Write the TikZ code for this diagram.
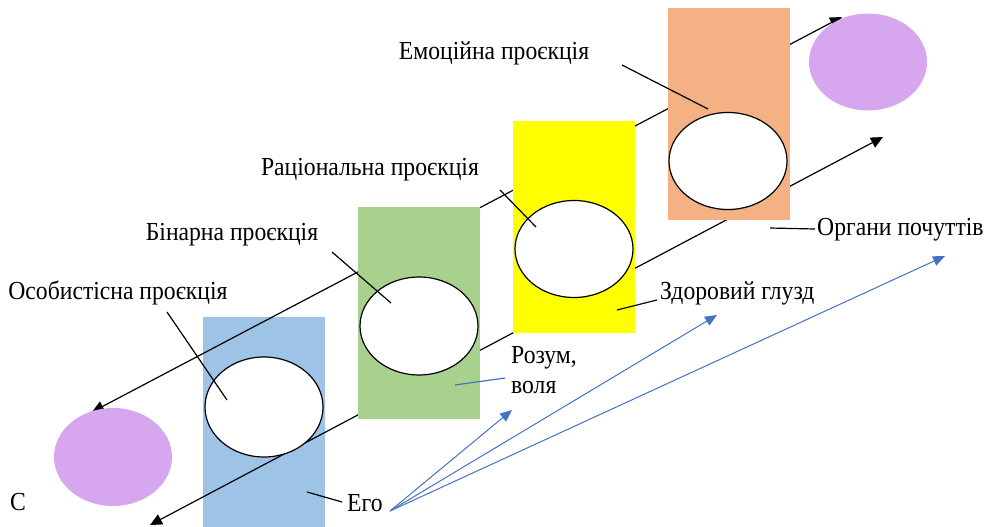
\documentclass[tikz,border=0pt]{standalone}
\usepackage{fontspec}
\setmainfont[FakeStretch=0.91]{Liberation Serif}
\usetikzlibrary{shapes.geometric,arrows.meta}
\definecolor{cblue}{RGB}{157,195,230}
\definecolor{cgreen}{RGB}{169,209,142}
\definecolor{cyellow}{RGB}{255,255,0}
\definecolor{corange}{RGB}{244,177,131}
\definecolor{cpurple}{RGB}{214,166,238}
\definecolor{carrow}{RGB}{68,114,196}
\tikzset{
  panel/.style={rectangle, inner sep=0pt, anchor=north west, minimum width=122pt},
  oval/.style={ellipse, draw=black, line width=1.2pt, fill=white, inner sep=0pt, minimum width=118pt, minimum height=97pt},
  goal/.style={ellipse, fill=cpurple, inner sep=0pt, minimum width=118pt, minimum height=97pt},
  bigarrow/.style={line width=1.2pt, {Triangle[length=12pt,width=11pt]}-{Triangle[length=12pt,width=11pt]}},
  pointer/.style={line width=1.2pt},
  bluepointer/.style={line width=1.2pt, draw=carrow},
  bluearrow/.style={line width=1pt, draw=carrow, -{Triangle[length=12pt,width=10pt]}, color=carrow},
  lbl/.style={inner sep=0pt, font=\fontsize{26}{30}\selectfont}
}
\begin{document}
\begin{tikzpicture}[x=1pt,y=-1pt]
\useasboundingbox (0,0) rectangle (985,527);
% blue panel (behind the lines)
\node[panel, fill=cblue, minimum height=210pt] (pblue) at (203,317) {};
% long arrows
\coordinate (a1) at (92,412);
\coordinate (a2) at (842,17);
\coordinate (b1) at (150,525);
\coordinate (b2) at (883,137);
\draw[bigarrow] (a1) -- (a2);
\draw[bigarrow] (b1) -- (b2);
% other panels
\node[panel, fill=cgreen, minimum height=212pt] (pgreen) at (358,207) {};
\node[panel, fill=cyellow, minimum height=212pt] (pyellow) at (513,121) {};
\node[panel, fill=corange, minimum height=212pt] (porange) at (668,8) {};
% ellipses
\node[oval, minimum height=100pt] (e1) at (264,407) {};
\node[oval, minimum height=98pt] (e2) at (419,326) {};
\node[oval] (e3) at (574,249) {};
\node[oval] (e4) at (728,161) {};
\node[goal, minimum height=98pt] (g1) at (113,457) {};
\node[goal] (g2) at (868,62) {};
% labels
\node[lbl] (l4) at (494,53) {Емоційна проєкція};
\node[lbl] (l3) at (370,170) {Раціональна проєкція};
\node[lbl] (l2) at (232,235) {Бінарна проєкція};
\node[lbl] (l1) at (118,293) {Особистісна проєкція};
\node[lbl, anchor=west] (lorg) at (817,230) {Органи почуттів};
\node[lbl, anchor=west] (lzd) at (660,293) {Здоровий глузд};
\node[lbl, anchor=west, align=left, font=\fontsize{26}{30}\selectfont] (lroz) at (511,370) {Розум,\\воля};
\node[lbl, anchor=west] (lego) at (347,503) {Его};
\node[lbl] (lc) at (18,502) {С};
% pointers
\coordinate (p4a) at (622,65); \coordinate (p4b) at (708,109);
\coordinate (p3a) at (500,190); \coordinate (p3b) at (536,227);
\coordinate (p2a) at (332,252); \coordinate (p2b) at (391,303);
\coordinate (p1a) at (167,312); \coordinate (p1b) at (227,400);
\coordinate (porga) at (770,228); \coordinate (porgb) at (815,229);
\coordinate (pzda) at (617,310); \coordinate (pzdb) at (657,300);
\coordinate (pegoa) at (307,492); \coordinate (pegob) at (342,502);
\coordinate (proza) at (455,385); \coordinate (prozb) at (505,378);
\draw[pointer] (p4a) -- (p4b);
\draw[pointer] (p3a) -- (p3b);
\draw[pointer] (p2a) -- (p2b);
\draw[pointer] (p1a) -- (p1b);
\draw[pointer] (porga) -- (porgb);
\draw[pointer] (pzda) -- (pzdb);
\draw[pointer] (pegoa) -- (pegob);
\draw[bluepointer] (proza) -- (prozb);
% blue arrows from Ego
\coordinate (o) at (390,511);
\coordinate (t1) at (512,410);
\coordinate (t2) at (717,315);
\coordinate (t3) at (945,256);
\draw[bluearrow] (o) -- (t1);
\draw[bluearrow] (o) -- (t2);
\draw[bluearrow] (o) -- (t3);
\end{tikzpicture}
\end{document}
